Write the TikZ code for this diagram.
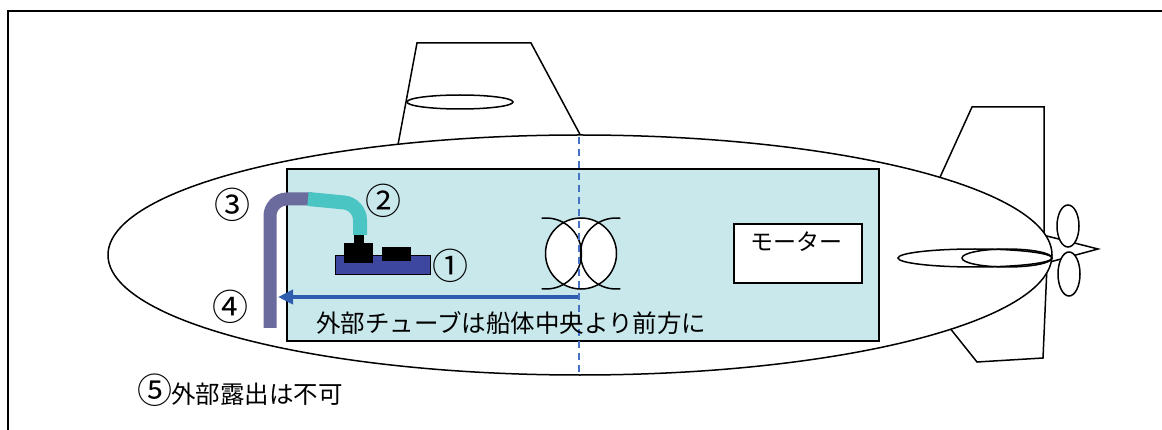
\documentclass[tikz,border=0pt]{standalone}
\usepackage{fontspec}
\newfontfamily\cjk{Noto Sans CJK JP}
\usetikzlibrary{arrows.meta}
\definecolor{bayfill}{HTML}{C9E8EC}
\definecolor{tubeout}{HTML}{6B6B9D}
\definecolor{tubein}{HTML}{4BC4C4}
\definecolor{pumpbase}{HTML}{3E479F}
\definecolor{flowblue}{HTML}{2E5DB0}
\definecolor{axisblue}{HTML}{4472C4}
\tikzset{
  outline/.style={draw=black, line width=1.5pt},
  shell/.style={outline, fill=white},
  numlabel/.style={font=\cjk\fontsize{36}{36}\selectfont, inner sep=0pt},
  caption/.style={font=\cjk\fontsize{24.5}{24.5}\selectfont, inner sep=0pt, anchor=west},
}
\begin{document}
\begin{tikzpicture}[x=1pt,y=-1pt]
\useasboundingbox (0,0) rectangle (1162,430);
% page frame
\draw[line width=2pt] (8,430) -- (8,11) -- (1162,11);

% sail and rear fins (their lower parts are hidden by the hull)
\draw[shell] (397,150) -- (417,43) -- (531,43) -- (583,140) -- cycle;
\draw[outline] (460,102) ellipse [x radius=53, y radius=7];
\draw[shell] (936,186) -- (972,107) -- (1044,107) -- (1044,242) -- cycle;
\draw[shell] (945,322) -- (977,362) -- (1043,358) -- (1047,266) -- cycle;
% tail cone
\draw[shell] (1035,233) -- (1098,249) -- (1035,266) -- cycle;

% hull
\draw[shell] (580,255) ellipse [x radius=472, y radius=120];

% horizontal stabilisers
\draw[outline] (975,258) ellipse [x radius=77, y radius=9];
\draw[outline] (1007,258) ellipse [x radius=45, y radius=9];
% propeller blades
\draw[shell] (1068,226) ellipse [x radius=11, y radius=21];
\draw[shell] (1069,274) ellipse [x radius=11, y radius=22];

% inner bay
\draw[outline, fill=bayfill] (287,169) rectangle (879,341);

% motor
\node[outline, fill=white, minimum width=128pt, minimum height=59pt, inner sep=0pt] (motor) at (798,253.5) {};
\node[font=\cjk\fontsize{23}{23}\selectfont, inner sep=0pt] (motorlabel) at (796,242) {モーター};

% coil pair at mid-ship
\draw[shell] (581,253.5) circle [radius=35.5];
\draw[outline] (546,253.5) ++(97:35.5) arc [start angle=97, end angle=-97, radius=35.5];
\draw[outline] (616,253.5) ++(83:35.5) arc [start angle=83, end angle=277, radius=35.5];

% pump
\draw[draw=black, line width=0.6pt, fill=pumpbase] (335,255) rectangle (430,274);
\fill[black] (344,243) rectangle (373,263);
\fill[black] (354,235) rectangle (364,243);
\fill[black] (382,247) rectangle (411,261);

% tubes
\draw[tubeout, line width=13pt, rounded corners=17pt] (312,199) -- (270,199) -- (270,328);
\draw[tubein, line width=14pt, rounded corners=16pt] (308,199) -- (360,204) -- (360,235);

% flow arrow towards the bow
\coordinate (flowstart) at (579,297);
\coordinate (flowend) at (278,297);
\draw[flowblue, line width=4.5pt, -{Triangle[length=15pt,width=14pt]}] (flowstart) -- (flowend);

% mid-ship axis
\coordinate (axistop) at (579,137);
\coordinate (axisbottom) at (579,375);
\draw[axisblue, line width=1.5pt, dash pattern=on 7pt off 5pt] (axistop) -- (axisbottom);

% labels
\node[numlabel] (n1) at (450,266) {①};
\node[numlabel] (n2) at (383,201) {②};
\node[numlabel] (n3) at (232,205) {③};
\node[numlabel] (n4) at (230,307) {④};
\node[caption] (bowtext) at (316,323) {外部チューブは船体中央より前方に};
\node[caption] (exposetext) at (137,390) {{\fontsize{35}{35}\selectfont ⑤}\hspace{-1pt}外部露出は不可};
\end{tikzpicture}
\end{document}
